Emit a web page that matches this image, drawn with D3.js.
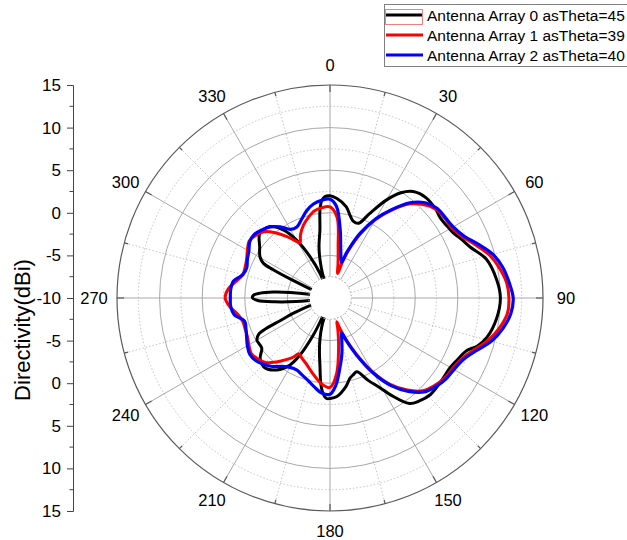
<!DOCTYPE html>
<html>
<head>
<meta charset="utf-8">
<script src="https://cdn.jsdelivr.net/npm/d3@7"></script>
<style>
  body { margin: 0; background: #fff; }
  svg text { font-family: Arial, "Liberation Sans", sans-serif; fill: #000; }
</style>
</head>
<body>
<div id="chart-container"></div>
<script>
// series names
const seriesNames = ["Antenna Array 0 asTheta=45", "Antenna Array 1 asTheta=39", "Antenna Array 2 asTheta=40"];

// angle labels around the circle (deg)
const angleLabels = [0, 30, 60, 90, 120, 150, 180, 210, 240, 270, 300, 330];

// Array 0 (black) - angle (deg) / directivity (dBi)
const arr0Angles = [0, 4, 10, 14, 17, 21, 25, 30, 34, 38, 44, 50, 54, 58, 62, 66, 70, 76, 84, 90,
  97, 104, 108, 111, 116, 120, 127, 134, 139, 143, 148, 151, 155, 160, 163, 166, 170, 176, 180,
  182, 184, 186, 188.5, 191, 193.5, 196, 199, 202, 204.3, 207.8, 211, 216.5, 222.8, 229, 233.6, 237, 240,
  243, 244.5, 245.5, 247.4, 250, 255, 262, 264, 266, 268, 270, 272, 274, 276, 278, 280, 286,
  294, 295.5, 296.5, 297.5, 300.5, 306, 312.7, 320, 325.5, 330, 334.2, 338, 341, 343, 345.3, 348, 351.6, 353.5, 355, 357];
const arr0Values = [2.0, 1.7, 0.9, -0.1, -0.6, -0.6, 0.9, 3.3, 4.9, 5.85, 6.3, 6.2, 6.0, 6.1, 6.35, 6.9, 7.5, 8.9, 9.7, 10.0,
  9.7, 9.0, 8.2, 7.2, 6.6, 6.3, 6.3, 6.35, 6.0, 5.5, 3.4, 2.0, 0.7, -0.8, -0.6, -0.3, 0.6, 1.6, 1.8,
  1.8, 1.3, 0.2, -2.0, -3.5, -4.9, -6.5, -10, -7.5, -5.2, -2.4, -0.8, 0.5, 1.2, 0.85, -0.05, -0.1, -0.1,
  -0.6, -1.8, -3.5, -5.3, -8, -10, -9, -6, -3.5, -1.5, -0.9, -1.0, -1.8, -3.3, -5.3, -7.5, -10,
  -8.5, -5, -2.5, -1.2, -0.46, 0.2, 1.2, 0.94, -0.3, -2.15, -4.6, -6.9, -10, -7, -5.4, -3.8, -1.9, 0.4, 1.4, 1.9];

// Array 1 (red)
const arr1Angles = [0, 5, 9, 13.5, 16, 17.5, 19, 22, 25, 30, 35, 40, 45, 50, 55, 60, 65, 70, 75, 80, 85, 90,
  95, 100, 105, 110, 115, 120, 125, 130, 135, 140, 145, 150, 155, 159, 162, 164, 166, 170, 175, 180,
  185, 190, 195, 200, 205, 209, 212, 215, 220, 225, 230, 235, 240, 245, 250, 255, 260, 265, 270,
  275, 280, 285, 290, 295, 300, 305, 310, 315, 320, 325, 330, 331.5, 335, 340, 345, 350, 355];
const arr1Values = [0.7, -0.5, -3.9, -6.0, -6.8, -7.0, -5.5, -3.5, -1.8, 0.6, 2.6, 4.4, 5.5, 6.2, 6.4, 6.5, 7.1, 8.2, 9.4, 10.2, 10.8, 11.0,
  10.9, 10.2, 9.2, 7.9, 7.0, 6.6, 6.4, 6.0, 5.4, 4.1, 2.4, 0.0, -2.8, -4.8, -6.2, -7.1, -6.2, -4.2, -1.1, 0.5,
  0.2, -0.5, -1.2, -1.8, -2.2, -2.5, -1.8, -1.2, -0.2, 0.7, 1.1, 1.3, 1.0, 0.7, 0.6, 0.6, 1.0, 1.8, 2.3,
  2.0, 1.2, 0.6, 0.6, 0.8, 1.2, 1.6, 1.4, 1.0, 0.0, -1.2, -2.4, -2.65, -1.8, -0.9, -0.2, 0.4, 0.65];

// Array 2 (blue)
const arr2Angles = [0, 4, 8.5, 12.5, 16, 18, 20, 22, 25, 30, 35, 40, 45, 50, 55, 60, 65, 70, 75, 80, 85, 90,
  95, 100, 105, 110, 115, 120, 125, 130, 135, 140, 145, 150, 155, 159, 161.5, 164, 168, 172, 176, 180,
  185, 190, 195, 200, 205, 210, 215, 220, 225, 230, 235, 240, 245, 250, 255, 260, 265, 270,
  275, 280, 285, 290, 295, 300, 305, 310, 315, 320, 325, 330, 335, 340, 345, 350, 355];
const arr2Values = [1.6, 0.8, -1.9, -4.2, -5.3, -5.6, -4.4, -3.3, -1.6, 0.75, 2.7, 4.6, 5.8, 6.4, 6.5, 6.7, 7.3, 8.5, 9.8, 10.6, 11.1, 11.5,
  11.3, 10.6, 9.6, 8.2, 7.2, 6.8, 6.6, 6.2, 5.6, 4.3, 2.6, 0.2, -2.6, -4.6, -5.7, -5.0, -3.3, -1.7, 0.2, 1.3,
  1.2, 0.6, 0.0, -0.4, -0.7, -0.6, -0.2, 0.5, 1.0, 1.4, 1.5, 1.2, 0.8, 0.5, 0.4, 1.4, 1.7, 1.7,
  1.7, 1.5, 0.6, 0.4, 0.7, 1.0, 1.5, 1.6, 1.3, 0.9, 0.2, -0.7, -0.8, -0.2, 0.6, 1.2, 1.5];

const seriesColors = ["#000000", "#ff0000", "#0000ff"];

// ---- layout ----
const width = 627, height = 540;
const cx = 330, cy = 298, R = 213;

const svg = d3.select("#chart-container")
    .append("svg")
    .attr("width", width)
    .attr("height", height);

// radial scale: -10 dB at the centre, 15 dB at the rim
const r = d3.scaleLinear().domain([-10, 15]).range([0, R]).clamp(true);
const toRad = a => a * Math.PI / 180;

const g = svg.append("g").attr("transform", `translate(${cx},${cy})`);

// grid circles
const minorRings = [-7.5, -2.5, 2.5, 7.5, 12.5];
const majorRings = [-5, 0, 5, 10];
g.selectAll(".minor-ring").data(minorRings).enter().append("circle")
    .attr("r", d => r(d))
    .attr("fill", "none")
    .attr("stroke", "#c4c4c4")
    .attr("stroke-dasharray", "1.5,2");
g.selectAll(".major-ring").data(majorRings).enter().append("circle")
    .attr("r", d => r(d))
    .attr("fill", "none")
    .attr("stroke", "#a8a8a8");

// spokes
const spokes = d3.range(0, 360, 15);
g.selectAll(".spoke").data(spokes).enter().append("line")
    .attr("x1", d => r(-7.5) * Math.sin(toRad(d)))
    .attr("y1", d => -r(-7.5) * Math.cos(toRad(d)))
    .attr("x2", d => R * Math.sin(toRad(d)))
    .attr("y2", d => -R * Math.cos(toRad(d)))
    .attr("stroke", d => d % 30 === 0 ? "#a8a8a8" : "#c4c4c4")
    .attr("stroke-dasharray", d => d % 30 === 0 ? null : "1.5,2");

// outer circle and ticks
g.append("circle").attr("r", R).attr("fill", "none").attr("stroke", "#5a5a5a").attr("stroke-width", 1.2);
g.selectAll(".rim-tick").data(spokes).enter().append("line")
    .attr("x1", d => (R - (d % 30 === 0 ? 7 : 4)) * Math.sin(toRad(d)))
    .attr("y1", d => -(R - (d % 30 === 0 ? 7 : 4)) * Math.cos(toRad(d)))
    .attr("x2", d => R * Math.sin(toRad(d)))
    .attr("y2", d => -R * Math.cos(toRad(d)))
    .attr("stroke", "#5a5a5a")
    .attr("stroke-width", 1.2);

// angle labels
g.selectAll(".ang-label").data(angleLabels).enter().append("text")
    .attr("x", d => 236 * Math.sin(toRad(d)))
    .attr("y", d => -233 * Math.cos(toRad(d)))
    .attr("text-anchor", "middle")
    .attr("dominant-baseline", "central")
    .style("font-size", "16.5px")
    .text(d => d);

// curves
const radialLine = d3.lineRadial()
    .angle(d => toRad(d[0]))
    .radius(d => r(d[1]))
    .curve(d3.curveCatmullRomClosed.alpha(0.5));

const seriesData = [
    d3.zip(arr0Angles, arr0Values),
    d3.zip(arr1Angles, arr1Values),
    d3.zip(arr2Angles, arr2Values)
];
const widths = [3, 3, 3.2];

seriesData.forEach((data, i) => {
    g.append("path")
        .datum(data)
        .attr("fill", "none")
        .attr("stroke", seriesColors[i])
        .attr("stroke-width", widths[i])
        .attr("stroke-linejoin", "round")
        .attr("d", radialLine);
});

// white hole in the middle
g.append("circle").attr("r", r(-7.5) - 1).attr("fill", "#fff");
g.append("circle").attr("r", r(-7.5))
    .attr("fill", "none")
    .attr("stroke", "#c4c4c4")
    .attr("stroke-dasharray", "1.5,2");

// left radial axis (15 .. -10 .. 15)
const y = d3.scaleLinear().domain([25, -25]).range([cy - R, cy + R]);
const axisX = 73;
const axisG = svg.append("g").attr("transform", `translate(${axisX},0)`);
axisG.call(d3.axisLeft(y)
        .tickValues(d3.range(-25, 26, 5))
        .tickSize(6)
        .tickPadding(6)
        .tickFormat(d => Math.abs(d) - 10))
    .call(a => a.select(".domain").attr("stroke", "#444"))
    .call(a => a.selectAll(".tick line").attr("stroke", "#444"))
    .call(a => a.selectAll(".tick text").style("font-size", "17px").style("font-family", "Arial, 'Liberation Sans', sans-serif"));

axisG.selectAll(".minor").data(d3.range(-22.5, 25, 5)).enter().append("line")
    .attr("x1", -3.5).attr("x2", 0)
    .attr("y1", d => y(d)).attr("y2", d => y(d))
    .attr("stroke", "#444");

svg.append("text")
    .attr("transform", "translate(22,330) rotate(-90)")
    .attr("text-anchor", "middle")
    .attr("dominant-baseline", "central")
    .style("font-size", "22px")
    .text("Directivity(dBi)");

// legend
const legend = svg.append("g");
legend.append("rect")
    .attr("x", 384.5).attr("y", 4.5)
    .attr("width", 250).attr("height", 62)
    .attr("fill", "#fff")
    .attr("stroke", "#808080");

seriesNames.forEach((name, i) => {
    const ly = 15 + i * 20;
    legend.append("line")
        .attr("x1", 386).attr("x2", 423)
        .attr("y1", ly).attr("y2", ly)
        .attr("stroke", seriesColors[i])
        .attr("stroke-width", 3);
    legend.append("text")
        .attr("x", 427).attr("y", ly + 5.5)
        .style("font-size", "15.5px")
        .text(name);
});
// selection frame around first sample
legend.append("rect")
    .attr("x", 385.5).attr("y", 9.5)
    .attr("width", 37).attr("height", 15)
    .attr("fill", "none")
    .attr("stroke", "#f08080");
</script>
</body>
</html>
